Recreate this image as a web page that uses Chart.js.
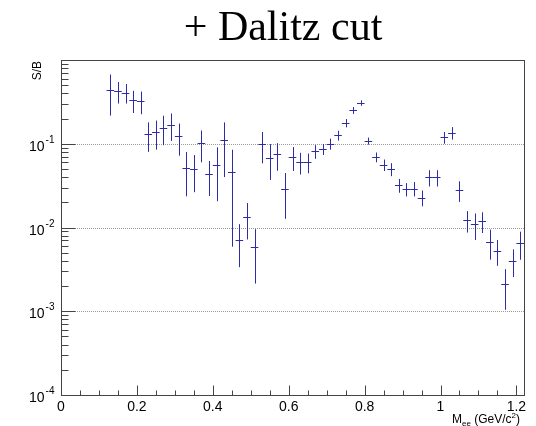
<!DOCTYPE html>
<html>
<head>
<meta charset="utf-8">
<script src="https://cdn.jsdelivr.net/npm/chart.js@4/dist/chart.umd.min.js"></script>
<style>
  html, body { margin: 0; padding: 0; background: #ffffff; }
  canvas { display: block; }
</style>
</head>
<body>
<canvas id="c" width="536" height="426"></canvas>
<script>
// Dielectron signal-to-background ratio after the Dalitz cut, 20 MeV/c^2 bins
const massBins = [
  0.13, 0.15, 0.17, 0.19, 0.21, 0.23, 0.25, 0.27, 0.29, 0.31,
  0.33, 0.35, 0.37, 0.39, 0.41, 0.43, 0.45, 0.47, 0.49, 0.51,
  0.53, 0.55, 0.57, 0.59, 0.61, 0.63, 0.65, 0.67, 0.69, 0.71,
  0.73, 0.75, 0.77, 0.79, 0.81, 0.83, 0.85, 0.87, 0.89, 0.91,
  0.93, 0.95, 0.97, 0.99, 1.01, 1.03, 1.05, 1.07, 1.09, 1.11,
  1.13, 1.15, 1.17, 1.19, 1.21
];
const sOverB = [
  0.444, 0.424, 0.409, 0.331, 0.322, 0.130, 0.137, 0.156, 0.169, 0.123,
  0.0516, 0.0498, 0.102, 0.0430, 0.0556, 0.110, 0.0454, 0.00716, 0.0134, 0.00584,
  0.0984, 0.0680, 0.0746, 0.0287, 0.0693, 0.0604, 0.0604, 0.0811, 0.0864, 0.100,
  0.126, 0.177, 0.251, 0.307, 0.108, 0.0693, 0.0560, 0.0498, 0.0320, 0.0287,
  0.0292, 0.0228, 0.0396, 0.0396, 0.119, 0.135, 0.0279, 0.0122, 0.0109, 0.0119,
  0.00678, 0.00529, 0.00211, 0.00402, 0.00652
];
const sOverBErr = [
  0.227, 0.122, 0.107, 0.098, 0.097, 0.050, 0.052, 0.060, 0.061, 0.051,
  0.028, 0.0234, 0.042, 0.0192, 0.035, 0.070, 0.0395, 0.0038, 0.0062, 0.0037,
  0.040, 0.031, 0.027, 0.016, 0.022, 0.0175, 0.016, 0.015, 0.013, 0.015,
  0.017, 0.020, 0.024, 0.023, 0.0104, 0.0093, 0.0088, 0.0088, 0.0060, 0.0052,
  0.0057, 0.0049, 0.0087, 0.0087, 0.019, 0.023, 0.0077, 0.0035, 0.0038, 0.0033,
  0.00265, 0.0018, 0.00107, 0.00146, 0.0024
];
const binHalfWidth = 0.01;

// Axis labelling
const xTickValues = [0, 0.2, 0.4, 0.6, 0.8, 1.0, 1.2];
const xTickLabels = ['0', '0.2', '0.4', '0.6', '0.8', '1', '1.2'];
const yTickExponents = [-1, -2, -3, -4];
const yGridValues = [1e-1, 1e-2, 1e-3];

const markerColor = '#2c2ca8';
const axisColor = '#444444';
const sansFont = '"Liberation Sans", Arial, Helvetica, sans-serif';
const serifFont = '"Liberation Serif", "Times New Roman", Times, serif';

const crisp = v => Math.round(v) + 0.5;

const histoPlugin = {
  id: 'histoDecor',
  beforeDatasetsDraw(chart) {
    const { ctx, chartArea: a, scales: { y } } = chart;
    ctx.save();
    ctx.strokeStyle = '#9a9a9a';
    ctx.lineWidth = 1;
    ctx.setLineDash([1, 1]);
    yGridValues.forEach(v => {
      const py = crisp(y.getPixelForValue(v));
      ctx.beginPath();
      ctx.moveTo(a.left, py);
      ctx.lineTo(a.right, py);
      ctx.stroke();
    });
    ctx.restore();
  },
  afterDatasetsDraw(chart) {
    const { ctx, chartArea: a, scales: { x, y } } = chart;
    ctx.save();

    // error crosses
    ctx.strokeStyle = markerColor;
    ctx.lineWidth = 1;
    massBins.forEach((m, i) => {
      const v = sOverB[i], e = sOverBErr[i];
      const px = crisp(x.getPixelForValue(m));
      const py = crisp(y.getPixelForValue(v));
      const lo = Math.max(v - e, y.min);
      const yTop = y.getPixelForValue(v + e);
      const yBot = Math.min(y.getPixelForValue(lo), a.bottom);
      ctx.beginPath();
      ctx.moveTo(px, yTop);
      ctx.lineTo(px, yBot);
      ctx.moveTo(x.getPixelForValue(m - binHalfWidth), py);
      ctx.lineTo(x.getPixelForValue(m + binHalfWidth), py);
      ctx.stroke();
    });

    // frame
    ctx.strokeStyle = axisColor;
    ctx.lineWidth = 1;
    const L = crisp(a.left), R = crisp(a.right), T = crisp(a.top), B = crisp(a.bottom);
    ctx.strokeRect(L, T, R - L, B - T);

    // x ticks (inside the frame)
    ctx.beginPath();
    for (let k = 0; k <= 24; k++) {
      const v = k * 0.05;
      const px = crisp(x.getPixelForValue(v));
      const len = (k % 4 === 0) ? 10 : 5;
      ctx.moveTo(px, B);
      ctx.lineTo(px, B - len);
    }
    // y ticks (log decades with 2..9 minors)
    for (let d = -4; d <= -1; d++) {
      for (let k = 1; k <= 9; k++) {
        const v = k * Math.pow(10, d);
        const py = crisp(y.getPixelForValue(v));
        const len = (k === 1) ? 14 : 7;
        ctx.moveTo(L, py);
        ctx.lineTo(L + len, py);
      }
    }
    ctx.stroke();

    // x tick labels
    ctx.fillStyle = '#000';
    ctx.font = '14px ' + sansFont;
    ctx.textAlign = 'center';
    ctx.textBaseline = 'top';
    xTickValues.forEach((v, i) => {
      ctx.fillText(xTickLabels[i], x.getPixelForValue(v), B + 5);
    });

    // y tick labels: 10^n
    yTickExponents.forEach(n => {
      const py = y.getPixelForValue(Math.pow(10, n));
      const sup = String(n);
      ctx.font = '10px ' + sansFont;
      const wSup = ctx.measureText(sup).width;
      ctx.textAlign = 'right';
      ctx.textBaseline = 'alphabetic';
      const right = L - 7;
      ctx.fillText(sup, right, py - 1);
      ctx.font = '14px ' + sansFont;
      ctx.fillText('10', right - wSup - 1, py + 7);
    });

    // x axis title: M_ee (GeV/c^2)
    {
      const baseY = B + 27;
      const parts = [
        { t: 'M', f: 12, dy: 0 },
        { t: 'ee', f: 8, dy: 3 },
        { t: ' (GeV/c', f: 12, dy: 0 },
        { t: '2', f: 8, dy: -5 },
        { t: ')', f: 12, dy: 0 }
      ];
      let total = 0;
      parts.forEach(p => { ctx.font = p.f + 'px ' + sansFont; p.w = ctx.measureText(p.t).width; total += p.w; });
      let cx = a.right - 4 - total;
      ctx.textAlign = 'left';
      ctx.textBaseline = 'alphabetic';
      parts.forEach(p => {
        ctx.font = p.f + 'px ' + sansFont;
        ctx.fillText(p.t, cx, baseY + p.dy);
        cx += p.w;
      });
    }

    // y axis title
    ctx.save();
    ctx.translate(41, a.top);
    ctx.rotate(-Math.PI / 2);
    ctx.font = '12px ' + sansFont;
    ctx.textAlign = 'right';
    ctx.textBaseline = 'alphabetic';
    ctx.fillText('S/B', -1, 0);
    ctx.restore();

    // title
    ctx.font = '42px ' + serifFont;
    ctx.textAlign = 'center';
    ctx.textBaseline = 'alphabetic';
    ctx.fillText('+ Dalitz cut', 283, 40);

    ctx.restore();
  }
};

new Chart(document.getElementById('c'), {
  type: 'scatter',
  data: {
    datasets: [{
      label: 'S/B',
      data: massBins.map((m, i) => ({ x: m, y: sOverB[i] })),
      pointRadius: 0,
      showLine: false
    }]
  },
  options: {
    responsive: false,
    animation: false,
    layout: { padding: { left: 61, right: 12, top: 60, bottom: 31 } },
    plugins: { legend: { display: false }, tooltip: { enabled: false } },
    scales: {
      x: { type: 'linear', min: 0, max: 1.22, display: false },
      y: { type: 'logarithmic', min: 1e-4, max: 1, display: false }
    }
  },
  plugins: [histoPlugin]
});
</script>
</body>
</html>
